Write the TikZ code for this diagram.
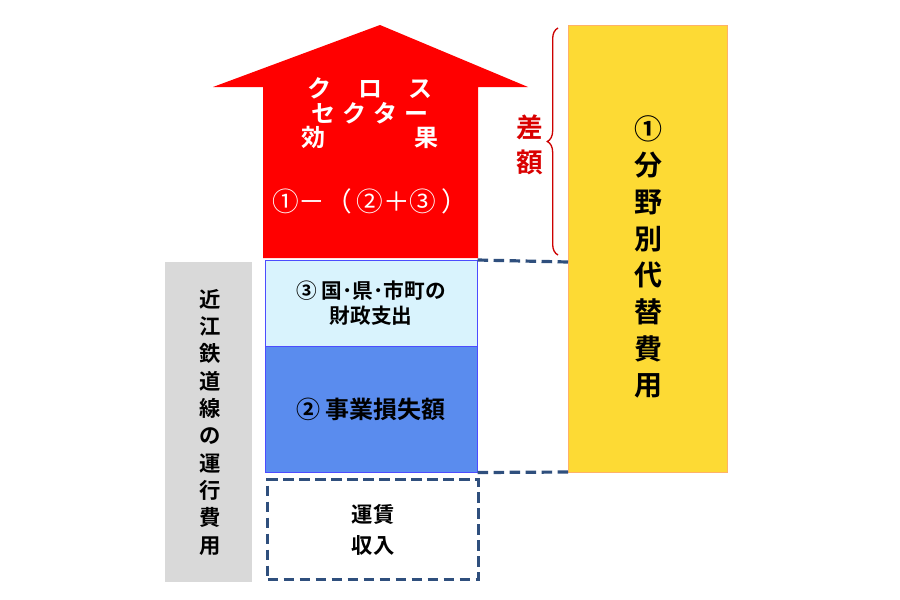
\documentclass[tikz,border=0pt]{standalone}
\usepackage{fontspec}
\newfontfamily\jp{Noto Sans CJK JP}[BoldFont={Noto Sans CJK JP Bold}]
\usetikzlibrary{decorations.pathreplacing}
\definecolor{dashblue}{RGB}{47,79,125}
\definecolor{lossblue}{RGB}{90,140,238}

\begin{document}
\begin{tikzpicture}[x=0.75pt,y=-0.75pt,font=\jp\bfseries,
    box/.style={draw,anchor=north west,inner sep=0pt},
    dash line/.style={draw=dashblue,line width=2.4pt,dash pattern=on 8pt off 4pt},
    vtext/.style={align=center,font=\jp\bfseries\fontsize{15}{20}\selectfont}]

  \useasboundingbox (0,0) rectangle (900,600);

  % arrow
  \fill[red] (380,25) -- (528,87) -- (478,87) -- (478,258) -- (263,258)
    -- (263,87) -- (213,87) -- cycle;
  \node[white,font=\jp\bfseries\fontsize{18}{19}\selectfont] (cross) at (370,88)
    {ク\hspace{1.1em}ロ\hspace{1.1em}ス};
  \node[white,font=\jp\bfseries\fontsize{18}{19}\selectfont] (sector) at (370,113)
    {セ\hspace{0.3em}ク\hspace{0.3em}タ\hspace{0.3em}ー};
  \node[white,font=\jp\bfseries\fontsize{18}{19}\selectfont] (effect) at (370,137)
    {効\hspace{3.7em}果};
  \node[white,font=\jp\fontsize{20}{20}\selectfont] (formula) at (370,201)
    {①－（\,②＋③\,）};

  % boxes
  \node[box,draw=blue!70,fill=cyan!15,minimum width=212*0.75pt,minimum height=86*0.75pt]
    (pub) at (265,260) {};
  \node[align=center,font=\jp\bfseries\fontsize{15.5}{19}\selectfont] at (pub.center)
    {③ 国･県･市町の\\財政支出};
  \node[box,draw=blue!70,fill=lossblue,minimum width=212*0.75pt,minimum height=126*0.75pt]
    (loss) at (265,346) {};
  \node[font=\jp\bfseries\fontsize{18}{20}\selectfont] at (loss.center) {② 事業損失額};
  \node[box,dash line,minimum width=211*0.75pt,minimum height=100*0.75pt]
    (fare) at (266,478) {};
  \node[align=center,font=\jp\bfseries\fontsize{16}{23}\selectfont] at (fare.center) {運賃\\収入};

  \node[box,draw=none,fill=gray!30,minimum width=87*0.75pt,minimum height=320*0.75pt]
    (cost) at (165,262) {};
  \node[vtext,font=\jp\bfseries\fontsize{16}{20.5}\selectfont] at (210,422)
    {近\\江\\鉄\\道\\線\\の\\運\\行\\費\\用};

  \node[box,draw=orange!60,fill=yellow!70!orange!80,minimum width=159*0.75pt,minimum height=447*0.75pt]
    (alt) at (568,25) {};
  \node[vtext,font=\jp\bfseries\fontsize{21}{27.5}\selectfont] at (648,257)
    {①\\分\\野\\別\\代\\替\\費\\用};

  % connectors
  \coordinate (ta) at (568,262);
  \coordinate (tb) at (568,472);
  \draw[dash line] (pub.north east) -- (ta);
  \draw[dash line] (loss.south east) -- (tb);

  % brace
  \draw[red!80!black,line width=1pt,decorate,decoration={brace,amplitude=8pt}]
    (558,255) -- (558,28);
  \node[red!85!black,vtext,font=\jp\bfseries\fontsize{20}{26}\selectfont] (diff) at (530,145) {差\\額};
\end{tikzpicture}
\end{document}
